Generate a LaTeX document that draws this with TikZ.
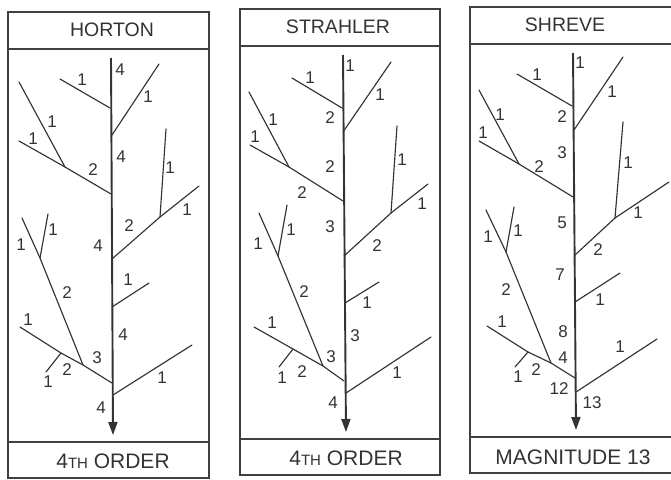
\documentclass[tikz,border=0pt]{standalone}
\usepackage{fontspec}
\setmainfont{Liberation Sans}
\usetikzlibrary{arrows.meta}

\begin{document}
\begin{tikzpicture}[x=1pt,y=-1pt,
    river/.style={line width=1.15pt, draw=black!80, line cap=round},
    mainstem/.style={line width=1.9pt, draw=black!80, -{Triangle[length=13pt,width=9pt]}},
    frame/.style={line width=1.2pt, draw=black!75},
    lbl/.style={font=\fontsize{17}{17}\selectfont, text=black!80, inner sep=0pt},
    head/.style={font=\fontsize{19.5}{20}\selectfont, text=black!80, inner sep=0pt},
    foot/.style={font=\fontsize{21}{22}\selectfont, text=black!80, inner sep=0pt}]
  \useasboundingbox (0,0) rectangle (671,479);
  % Horton net
  \begin{scope}[shift={(111,58)}]
    \coordinate (h-top) at (0,0);     \coordinate (h-out) at (2,377);
    \coordinate (h-j1) at (-1,50);    \coordinate (h-s1) at (-51,21);
    \coordinate (h-j2) at (1,77);     \coordinate (h-s2) at (48,6);
    \coordinate (h-j3) at (0,136);    \coordinate (h-k3) at (-46,109);
    \coordinate (h-s3a) at (-92,24);  \coordinate (h-s3b) at (-92,83);
    \coordinate (h-j4) at (1,201);    \coordinate (h-k4) at (49,159);
    \coordinate (h-s4a) at (55,71);   \coordinate (h-s4b) at (88,128);
    \coordinate (h-j5) at (1,249);    \coordinate (h-s5) at (38,225);
    \coordinate (h-j6) at (1,325);    \coordinate (h-k6) at (-28,307);
    \coordinate (h-k6b) at (-71,200);
    \coordinate (h-s6a) at (-89,160); \coordinate (h-s6b) at (-63,156);
    \coordinate (h-s6c) at (-91,269); \coordinate (h-m6) at (-50,295);
    \coordinate (h-s6d) at (-65,314);
    \coordinate (h-j7) at (2,337);    \coordinate (h-s7) at (81,287);
  \end{scope}
  % Strahler net
  \begin{scope}[shift={(343,55)}]
    \coordinate (s-top) at (0,0);     \coordinate (s-out) at (3,377);
    \coordinate (s-j1) at (-1,53);    \coordinate (s-s1) at (-51,23);
    \coordinate (s-j2) at (0,77);     \coordinate (s-s2) at (48,7);
    \coordinate (s-j3) at (0,146);    \coordinate (s-k3) at (-54,112);
    \coordinate (s-s3a) at (-94,37);  \coordinate (s-s3b) at (-93,90);
    \coordinate (s-j4) at (1,201);    \coordinate (s-k4) at (48,158);
    \coordinate (s-s4a) at (54,71);   \coordinate (s-s4b) at (85,129);
    \coordinate (s-j5) at (2,248);    \coordinate (s-s5) at (36,227);
    \coordinate (s-j6) at (1,326);    \coordinate (s-k6) at (-20,311);
    \coordinate (s-k6b) at (-65,201);
    \coordinate (s-s6a) at (-84,158); \coordinate (s-s6b) at (-56,150);
    \coordinate (s-s6c) at (-89,272); \coordinate (s-m6) at (-50,294);
    \coordinate (s-s6d) at (-64,312);
    \coordinate (s-j7) at (3,338);    \coordinate (s-s7) at (88,282);
  \end{scope}
  % Shreve net
  \begin{scope}[shift={(573,53)}]
    \coordinate (m-top) at (0,0);     \coordinate (m-out) at (3,377);
    \coordinate (m-j1) at (-1,53);    \coordinate (m-s1) at (-56,21);
    \coordinate (m-j2) at (1,77);     \coordinate (m-s2) at (50,4);
    \coordinate (m-j3) at (0,144);    \coordinate (m-k3) at (-54,111);
    \coordinate (m-s3a) at (-94,37);  \coordinate (m-s3b) at (-94,88);
    \coordinate (m-j4) at (2,202);    \coordinate (m-k4) at (42,165);
    \coordinate (m-s4a) at (50,69);   \coordinate (m-s4b) at (96,129);
    \coordinate (m-j5) at (2,249);    \coordinate (m-s5) at (47,220);
    \coordinate (m-j6) at (2,325);    \coordinate (m-k6) at (-22,310);
    \coordinate (m-k6b) at (-67,199);
    \coordinate (m-s6a) at (-87,157); \coordinate (m-s6b) at (-59,154);
    \coordinate (m-s6c) at (-86,273); \coordinate (m-m6) at (-45,299);
    \coordinate (m-s6d) at (-58,314);
    \coordinate (m-j7) at (3,339);    \coordinate (m-s7) at (84,286);
  \end{scope}
  % frames and streams, same for all three
  \foreach \p/\dx/\dy/\rt in {h/111/58/98, s/343/55/97, m/573/53/102}{
    \begin{scope}[shift={(\dx,\dy)}]
      \draw[frame] (-103,-46) rectangle (\rt,420);
      \draw[frame] (-103,-9) -- (\rt,-9);
      \draw[frame] (-103,384) -- (\rt,384);
    \end{scope}
    \draw[river] (\p-s1) -- (\p-j1);
    \draw[river] (\p-s2) -- (\p-j2);
    \draw[river] (\p-s3b) -- (\p-k3) -- (\p-j3);
    \draw[river] (\p-s3a) -- (\p-k3);
    \draw[river] (\p-s4b) -- (\p-k4) -- (\p-j4);
    \draw[river] (\p-s4a) -- (\p-k4);
    \draw[river] (\p-s5) -- (\p-j5);
    \draw[river] (\p-s6c) -- (\p-m6) -- (\p-k6) -- (\p-j6);
    \draw[river] (\p-s6a) -- (\p-k6b) -- (\p-k6);
    \draw[river] (\p-s6b) -- (\p-k6b);
    \draw[river] (\p-s6d) -- (\p-m6);
    \draw[river] (\p-s7) -- (\p-j7);
    \draw[mainstem] (\p-top) -- (\p-out);
  }
  % Horton
  \begin{scope}[shift={(111,58)}]
    \node[head] (h-title) at (1,-28) {HORTON};
    \node[foot] (h-foot) at (2,403) {4{\fontsize{15}{15}\selectfont TH} ORDER};
    \foreach \x/\y/\t [count=\i] in {9/12/4, -29/22/1, 37/39/1, -59/64/1, -78/81/1,
        -18/112/2, 10/99/4, 59/110/1, 76/152/1, 18/168/2, -13/188/4, -90/187/1,
        -58/172/1, -44/235/2, 17/222/1, 12/277/4, -83/262/1, -14/300/3,
        -44/312/2, -63/324/1, 51/320/1, -10/350/4}
      \node[lbl] (hn\i) at (\x,\y) {\t};
  \end{scope}
  % Strahler
  \begin{scope}[shift={(343,55)}]
    \node[head] (s-title) at (-5,-28) {STRAHLER};
    \node[foot] (s-foot) at (3,403) {4{\fontsize{15}{15}\selectfont TH} ORDER};
    \foreach \x/\y/\t [count=\i] in {7/11/1, -33/23/1, 37/40/1, -13/63/2, -70/65/1,
        -88/82/1, -13/112/2, -41/138/2, 59/105/1, 79/149/1, -13/172/3, -85/189/1,
        -52/175/1, 34/191/2, -39/237/2, 24/248/1, 12/281/3, -71/268/1,
        -12/302/3, -41/317/2, -61/323/1, 54/318/1, -10/348/4}
      \node[lbl] (sn\i) at (\x,\y) {\t};
  \end{scope}
  % Shreve
  \begin{scope}[shift={(573,53)}]
    \node[head] (m-title) at (-8,-28) {SHREVE};
    \node[foot] (m-foot) at (0,404) {MAGNITUDE 13};
    \foreach \x/\y/\t [count=\i] in {7/10/1, -36/22/1, 39/39/1, -11/64/2, -73/62/1,
        -90/80/1, -11/100/3, -34/114/2, 55/110/1, 65/160/1, -11/170/5, -85/184/1,
        -55/178/1, 25/197/2, -13/222/7, 27/247/1, -67/237/2, -10/279/8,
        -71/269/1, -10/305/4, -37/317/2, -55/324/1, 47/294/1, -14/336/12, 19/350/13}
      \node[lbl] (mn\i) at (\x,\y) {\t};
  \end{scope}
\end{tikzpicture}
\end{document}
